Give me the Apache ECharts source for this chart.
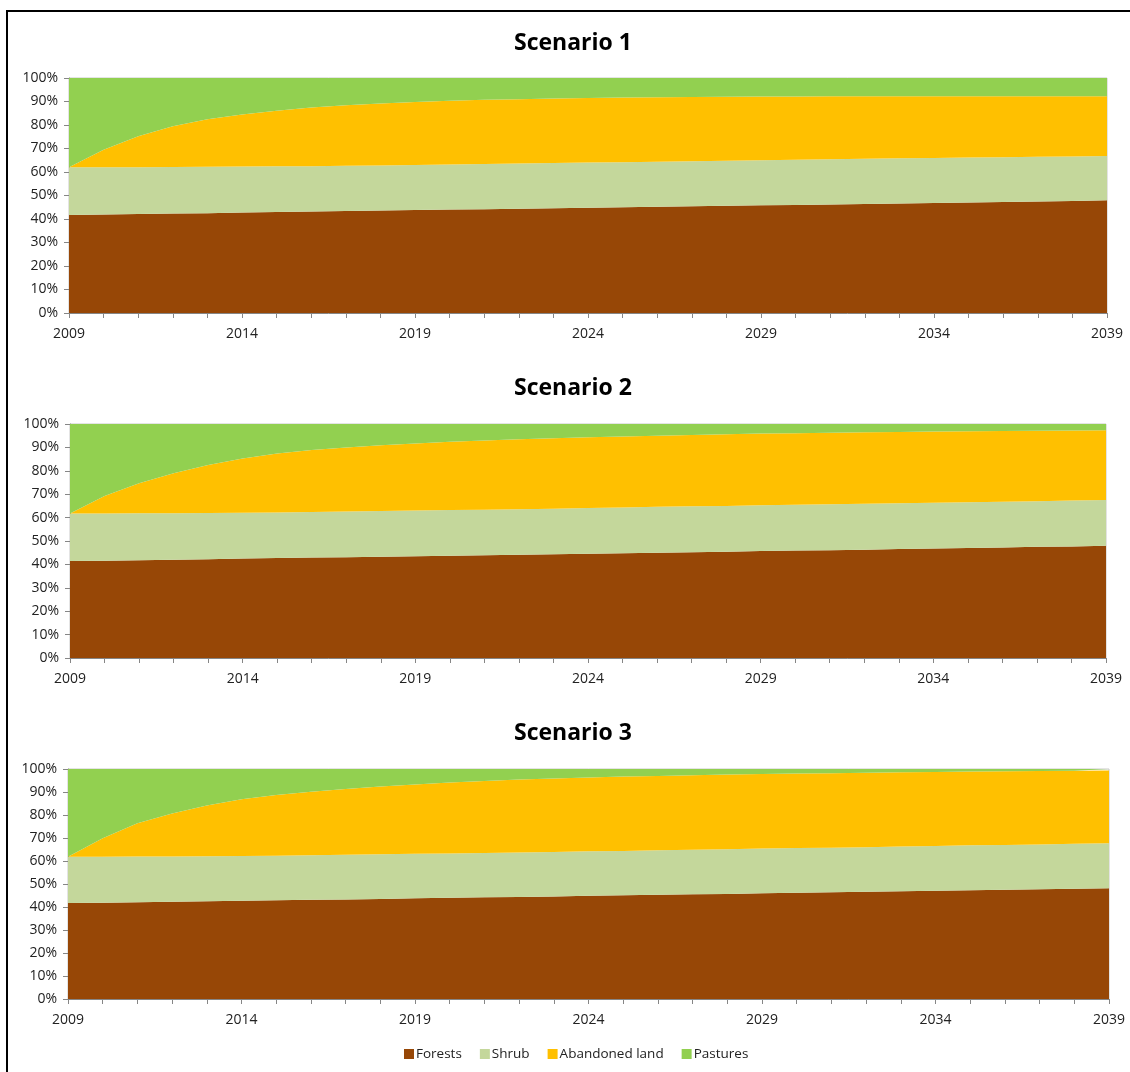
<!DOCTYPE html>
<html>
<head>
<meta charset="utf-8">
<script src="https://cdn.jsdelivr.net/npm/echarts@6/dist/echarts.min.js"></script>
<style>
  html, body { margin: 0; padding: 0; background: #fff; overflow: hidden; }
  #frame { position: absolute; left: 6px; top: 10px; width: 1130px; height: 1100px; border: 2px solid #000; box-sizing: border-box; }
  #chart { position: absolute; left: 0; top: 0; width: 1130px; height: 1072px; }
</style>
</head>
<body>
<div id="frame"></div>
<div id="chart"></div>
<script>
// Land-cover shares (% of area) per year, 2009-2039, for three scenarios
const years = ['2009','2010','2011','2012','2013','2014','2015','2016','2017','2018','2019','2020','2021','2022','2023','2024','2025','2026','2027','2028','2029','2030','2031','2032','2033','2034','2035','2036','2037','2038','2039'];
const seriesNames = ['Forests', 'Shrub', 'Abandoned land', 'Pastures'];
const scenarioTitles = ['Scenario 1', 'Scenario 2', 'Scenario 3'];
const yTickLabels = ['0%','10%','20%','30%','40%','50%','60%','70%','80%','90%','100%'];

// Scenario 1
const s1Forests   = [41.7,41.9,42.1,42.3,42.5,42.8,43.0,43.2,43.4,43.6,43.8,44.0,44.2,44.4,44.6,44.8,45.0,45.2,45.4,45.6,45.8,46.0,46.2,46.4,46.6,46.8,47.0,47.2,47.4,47.7,48.0];
const s1Shrub     = [20.3,20.1,19.9,19.8,19.7,19.5,19.4,19.3,19.3,19.2,19.2,19.2,19.2,19.2,19.2,19.2,19.2,19.2,19.2,19.2,19.2,19.2,19.2,19.2,19.2,19.2,19.2,19.1,19.1,18.9,18.8];
const s1Abandoned = [0.0,7.5,13.2,17.4,20.2,22.2,23.7,24.9,25.7,26.4,26.8,27.1,27.3,27.4,27.5,27.5,27.5,27.4,27.3,27.2,27.1,26.9,26.8,26.6,26.4,26.2,26.0,25.9,25.7,25.6,25.4];
const s1Pastures  = [38.0,30.5,24.8,20.5,17.6,15.5,13.9,12.6,11.6,10.8,10.2,9.7,9.3,9.0,8.7,8.5,8.3,8.2,8.1,8.0,7.9,7.9,7.8,7.8,7.8,7.8,7.8,7.8,7.8,7.8,7.8];

// Scenario 2
const s2Forests   = [41.4,41.6,41.8,42.0,42.2,42.5,42.7,42.9,43.1,43.3,43.5,43.7,43.9,44.1,44.3,44.6,44.8,45.0,45.2,45.4,45.7,45.9,46.1,46.3,46.6,46.8,47.0,47.2,47.5,47.7,48.0];
const s2Shrub     = [20.4,20.2,20.1,19.9,19.8,19.6,19.5,19.5,19.5,19.5,19.5,19.5,19.5,19.5,19.5,19.5,19.5,19.6,19.6,19.6,19.6,19.6,19.6,19.6,19.5,19.5,19.6,19.6,19.5,19.6,19.5];
const s2Abandoned = [0.0,7.4,12.8,17.0,20.5,23.2,25.2,26.5,27.4,28.1,28.7,29.2,29.6,29.9,30.1,30.2,30.4,30.4,30.5,30.6,30.6,30.6,30.6,30.6,30.5,30.5,30.3,30.2,30.1,29.9,29.8];
const s2Pastures  = [38.2,30.8,25.3,21.1,17.5,14.7,12.6,11.1,10.0,9.1,8.3,7.6,7.0,6.5,6.1,5.7,5.3,5.0,4.7,4.4,4.1,3.9,3.7,3.5,3.4,3.2,3.1,3.0,2.9,2.8,2.7];

// Scenario 3
const s3Forests   = [41.7,41.9,42.1,42.3,42.5,42.7,42.9,43.1,43.3,43.5,43.8,44.0,44.2,44.4,44.6,44.9,45.1,45.3,45.5,45.7,46.0,46.2,46.4,46.6,46.8,47.1,47.3,47.5,47.7,47.9,48.1];
const s3Shrub     = [20.2,20.0,19.9,19.7,19.6,19.5,19.4,19.4,19.4,19.4,19.3,19.3,19.3,19.3,19.3,19.3,19.3,19.4,19.4,19.4,19.4,19.4,19.4,19.4,19.5,19.4,19.5,19.5,19.5,19.6,19.6];
const s3Abandoned = [0.0,8.0,14.4,18.7,22.0,24.6,26.4,27.6,28.6,29.5,30.2,30.8,31.3,31.7,32.0,32.1,32.3,32.3,32.4,32.5,32.4,32.4,32.4,32.4,32.3,32.2,32.1,32.0,31.9,31.7,31.6];
const s3Pastures  = [38.1,30.1,23.6,19.3,15.9,13.2,11.3,9.9,8.7,7.6,6.7,5.9,5.2,4.6,4.1,3.7,3.3,3.0,2.7,2.4,2.2,2.0,1.8,1.6,1.4,1.3,1.1,1.0,0.9,0.8,0.7];

const scenarios = [
  [s1Forests, s1Shrub, s1Abandoned, s1Pastures],
  [s2Forests, s2Shrub, s2Abandoned, s2Pastures],
  [s3Forests, s3Shrub, s3Abandoned, s3Pastures]
];

const colors = ['#974706', '#C4D79B', '#FFC000', '#92D050'];
const font = '"Open Sans", "Noto Sans", sans-serif';

// panel geometry: plot-area placement for each scenario
const panels = [
  { left: 69, right: 23, top: 78,  height: 235, titleTop: 32 },
  { left: 70, right: 24, top: 424, height: 234, titleTop: 377 },
  { left: 68, right: 21, top: 769, height: 230, titleTop: 722 }
];

const grid = [], xAxis = [], yAxis = [], title = [], series = [];

panels.forEach((p, i) => {
  grid.push({ left: p.left, right: p.right, top: p.top, height: p.height,
    show: true, borderColor: '#c8c8c8', borderWidth: 1, backgroundColor: 'transparent' });
  title.push({ text: scenarioTitles[i], left: 514, top: p.titleTop,
    textStyle: { fontFamily: font, fontWeight: 'bold', fontSize: 23, color: '#000' },
    padding: 0, itemGap: 0 });
  xAxis.push({
    type: 'category', gridIndex: i, data: years, boundaryGap: false,
    axisLine: { lineStyle: { color: '#868686', width: 1 } },
    axisTick: { show: true, interval: 0, length: 5, lineStyle: { color: '#868686' } },
    axisLabel: { interval: 4, margin: 14, color: '#222', fontSize: 14, fontFamily: font },
    splitLine: { show: false }
  });
  yAxis.push({
    type: 'value', gridIndex: i, min: 0, max: 100, interval: 10,
    axisLine: { show: true, lineStyle: { color: '#868686', width: 1 } },
    axisTick: { show: true, length: 5, lineStyle: { color: '#868686' } },
    axisLabel: { margin: 11, color: '#222', fontSize: 14, fontFamily: font,
      formatter: v => yTickLabels[Math.round(v / 10)] },
    splitLine: { show: false }
  });
  seriesNames.forEach((name, k) => {
    series.push({
      name: name, type: 'line', stack: 'scn' + i,
      xAxisIndex: i, yAxisIndex: i,
      data: scenarios[i][k],
      symbol: 'none', smooth: false,
      lineStyle: { width: 0 },
      areaStyle: { color: colors[k], opacity: 1 },
      itemStyle: { color: colors[k] },
      emphasis: { disabled: true },
      z: 2
    });
  });
});

const chart = echarts.init(document.getElementById('chart'), null, { renderer: 'canvas' });
chart.setOption({
  animation: false,
  title: title,
  grid: grid,
  xAxis: xAxis,
  yAxis: yAxis,
  legend: {
    data: seriesNames, left: 399, top: 1042,
    icon: 'rect', itemWidth: 10, itemHeight: 10, itemGap: 18,
    textStyle: { fontFamily: font, fontSize: 13.5, color: '#222', padding: [0, 0, 0, -3] }
  },
  series: series
});
</script>
</body>
</html>
